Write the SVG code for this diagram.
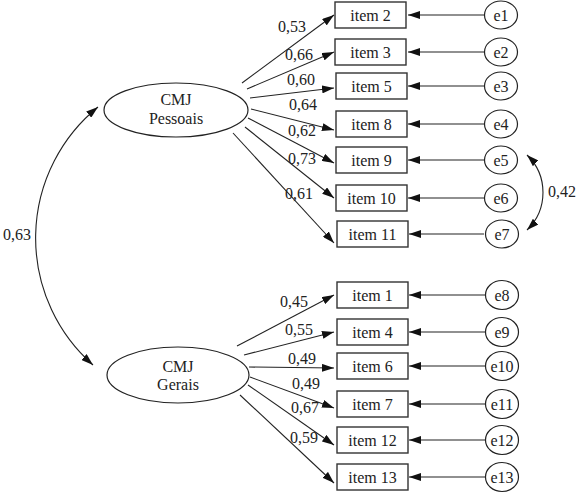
<svg xmlns="http://www.w3.org/2000/svg" width="579" height="495" viewBox="0 0 579 495">
<style>
text{font-size:16px;fill:#222;}
.c{text-anchor:middle;}
.box{fill:#fff;stroke:#333;stroke-width:1.4;}
.ell{fill:#fff;stroke:#222;stroke-width:1.2;}
.ln{fill:none;stroke:#222;stroke-width:1.1;}
</style>
<defs>
<marker id="ah" viewBox="0 0 12 8" refX="12" refY="4" markerWidth="12" markerHeight="8" markerUnits="userSpaceOnUse" orient="auto-start-reverse">
<path d="M0,0 L12,4 L0,8 Z" fill="#111"/>
</marker>
</defs>
<rect width="579" height="495" fill="#fff"/>
<g font-family="'Liberation Serif', 'DejaVu Serif', serif">
<g id="connectors">
<path class="ln" d="M98,107 A169,169 0 0,0 93,365" marker-start="url(#ah)" marker-end="url(#ah)"/>
<path class="ln" d="M527,155 A52,52 0 0,1 527,230" marker-start="url(#ah)" marker-end="url(#ah)"/>
<line class="ln" x1="242" y1="83" x2="334" y2="15" marker-end="url(#ah)"/>
<line class="ln" x1="247" y1="89" x2="334" y2="52" marker-end="url(#ah)"/>
<line class="ln" x1="250" y1="98" x2="334" y2="88" marker-end="url(#ah)"/>
<line class="ln" x1="251" y1="109" x2="334" y2="130" marker-end="url(#ah)"/>
<line class="ln" x1="248" y1="118" x2="334" y2="163" marker-end="url(#ah)"/>
<line class="ln" x1="245" y1="127" x2="334" y2="198" marker-end="url(#ah)"/>
<line class="ln" x1="233" y1="133" x2="334" y2="243" marker-end="url(#ah)"/>
<line class="ln" x1="237" y1="346" x2="334" y2="295" marker-end="url(#ah)"/>
<line class="ln" x1="244" y1="355" x2="334" y2="332" marker-end="url(#ah)"/>
<line class="ln" x1="249" y1="367" x2="334" y2="368" marker-end="url(#ah)"/>
<line class="ln" x1="250" y1="377" x2="334" y2="408" marker-end="url(#ah)"/>
<line class="ln" x1="248" y1="385" x2="334" y2="445" marker-end="url(#ah)"/>
<line class="ln" x1="240" y1="395" x2="334" y2="483" marker-end="url(#ah)"/>
<line class="ln" x1="484" y1="15" x2="408" y2="15" marker-end="url(#ah)"/>
<line class="ln" x1="484" y1="52" x2="408" y2="52" marker-end="url(#ah)"/>
<line class="ln" x1="484" y1="86" x2="408" y2="86" marker-end="url(#ah)"/>
<line class="ln" x1="484" y1="124" x2="408" y2="124" marker-end="url(#ah)"/>
<line class="ln" x1="484" y1="160" x2="408" y2="160" marker-end="url(#ah)"/>
<line class="ln" x1="484" y1="198" x2="408" y2="198" marker-end="url(#ah)"/>
<line class="ln" x1="484" y1="234" x2="409" y2="234" marker-end="url(#ah)"/>
<line class="ln" x1="485" y1="295" x2="409" y2="295" marker-end="url(#ah)"/>
<line class="ln" x1="485" y1="332" x2="409" y2="332" marker-end="url(#ah)"/>
<line class="ln" x1="485" y1="366" x2="409" y2="366" marker-end="url(#ah)"/>
<line class="ln" x1="485" y1="404" x2="409" y2="404" marker-end="url(#ah)"/>
<line class="ln" x1="485" y1="440" x2="409" y2="440" marker-end="url(#ah)"/>
<line class="ln" x1="485" y1="477" x2="409" y2="477" marker-end="url(#ah)"/>
<text x="3" y="240">0,63</text>
<text x="548" y="197">0,42</text>
<text x="278" y="32">0,53</text>
<text x="285" y="60">0,66</text>
<text x="287" y="85">0,60</text>
<text x="289" y="110">0,64</text>
<text x="288" y="136">0,62</text>
<text x="288" y="164">0,73</text>
<text x="285" y="199">0,61</text>
<text x="280" y="307">0,45</text>
<text x="285" y="335">0,55</text>
<text x="288" y="364">0,49</text>
<text x="292" y="389">0,49</text>
<text x="291" y="413">0,67</text>
<text x="290" y="443">0,59</text>
</g>
<g id="cmj-pessoais"><ellipse class="ell" cx="176" cy="110" rx="72" ry="27"/><text class="c" x="176" y="105">CMJ</text><text class="c" x="176" y="124">Pessoais</text></g>
<g id="cmj-gerais"><ellipse class="ell" cx="178" cy="375" rx="71" ry="28"/><text class="c" x="178" y="372">CMJ</text><text class="c" x="178" y="390">Gerais</text></g>
<g id="item2"><rect class="box" x="335" y="2" width="71" height="26"/><text class="c" x="370.5" y="21">item 2</text></g>
<g id="item3"><rect class="box" x="335" y="39" width="71" height="26"/><text class="c" x="370.5" y="58">item 3</text></g>
<g id="item5"><rect class="box" x="336" y="73" width="71" height="26"/><text class="c" x="371.5" y="92">item 5</text></g>
<g id="item8"><rect class="box" x="336" y="111" width="71" height="26"/><text class="c" x="371.5" y="130">item 8</text></g>
<g id="item9"><rect class="box" x="336" y="147" width="71" height="26"/><text class="c" x="371.5" y="166">item 9</text></g>
<g id="item10"><rect class="box" x="336" y="185" width="71" height="26"/><text class="c" x="371.5" y="204">item 10</text></g>
<g id="item11"><rect class="box" x="337" y="221" width="71" height="26"/><text class="c" x="372.5" y="240">item 11</text></g>
<g id="item1"><rect class="box" x="337" y="282" width="71" height="26"/><text class="c" x="372.5" y="301">item 1</text></g>
<g id="item4"><rect class="box" x="337" y="319" width="71" height="26"/><text class="c" x="372.5" y="338">item 4</text></g>
<g id="item6"><rect class="box" x="337" y="353" width="71" height="26"/><text class="c" x="372.5" y="372">item 6</text></g>
<g id="item7"><rect class="box" x="337" y="391" width="71" height="26"/><text class="c" x="372.5" y="410">item 7</text></g>
<g id="item12"><rect class="box" x="337" y="427" width="71" height="26"/><text class="c" x="372.5" y="446">item 12</text></g>
<g id="item13"><rect class="box" x="337" y="464" width="71" height="26"/><text class="c" x="372.5" y="483">item 13</text></g>
<g id="e1"><ellipse class="ell" cx="501" cy="15" rx="16.5" ry="14"/><text class="c" x="501" y="21">e1</text></g>
<g id="e2"><ellipse class="ell" cx="501" cy="52" rx="16.5" ry="14"/><text class="c" x="501" y="58">e2</text></g>
<g id="e3"><ellipse class="ell" cx="501" cy="86" rx="16.5" ry="14"/><text class="c" x="501" y="92">e3</text></g>
<g id="e4"><ellipse class="ell" cx="501" cy="124" rx="16.5" ry="14"/><text class="c" x="501" y="130">e4</text></g>
<g id="e5"><ellipse class="ell" cx="501" cy="160" rx="16.5" ry="14"/><text class="c" x="501" y="166">e5</text></g>
<g id="e6"><ellipse class="ell" cx="501" cy="198" rx="16.5" ry="14"/><text class="c" x="501" y="204">e6</text></g>
<g id="e7"><ellipse class="ell" cx="502" cy="234" rx="16.5" ry="14"/><text class="c" x="502" y="240">e7</text></g>
<g id="e8"><ellipse class="ell" cx="502" cy="295" rx="16.5" ry="14.5"/><text class="c" x="502" y="301">e8</text></g>
<g id="e9"><ellipse class="ell" cx="502" cy="332" rx="16.5" ry="14.5"/><text class="c" x="502" y="338">e9</text></g>
<g id="e10"><ellipse class="ell" cx="502" cy="366" rx="16.5" ry="14.5"/><text class="c" x="502" y="372">e10</text></g>
<g id="e11"><ellipse class="ell" cx="502" cy="404" rx="16.5" ry="14.5"/><text class="c" x="502" y="410">e11</text></g>
<g id="e12"><ellipse class="ell" cx="502" cy="440" rx="16.5" ry="14.5"/><text class="c" x="502" y="446">e12</text></g>
<g id="e13"><ellipse class="ell" cx="502" cy="477" rx="16.5" ry="14.5"/><text class="c" x="502" y="483">e13</text></g>
</g>
</svg>
